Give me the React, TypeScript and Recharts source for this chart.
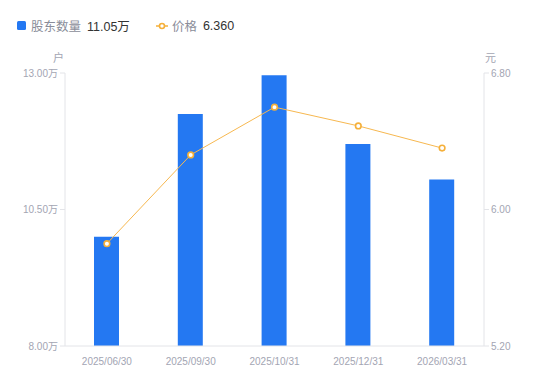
import React from 'react';
import { ComposedChart, Bar, Line, XAxis, YAxis } from 'recharts';

const categories = ['2025/06/30', '2025/09/30', '2025/10/31', '2025/12/31', '2026/03/31'];
const holders = [10.0, 12.25, 12.96, 11.7, 11.05];
const prices = [5.8, 6.32, 6.6, 6.49, 6.36];
const leftTicks = [8, 10.5, 13];
const rightTicks = [5.2, 6.0, 6.8];

const data = categories.map((c, i) => ({ name: c, holders: holders[i], price: prices[i] }));

const FONT = '"Liberation Sans", Arial, "Noto Sans CJK SC", sans-serif';
const tickStyle = { fontSize: 10, fill: '#a3a5b3', fontFamily: FONT };

const Dot = (props: any) => {
  const { cx, cy } = props;
  return <circle cx={cx} cy={cy} r={2.8} fill="#fff" stroke="#f5b03a" strokeWidth={1.6} />;
};

export default function App() {
  return (
    <div style={{ position: 'absolute', left: 0, top: 0, width: 550, height: 381, fontFamily: FONT, background: '#fff' }}>
      <div style={{ position: 'absolute', left: 17, top: 16, display: 'flex', alignItems: 'center', fontSize: 12.5, whiteSpace: 'nowrap' }}>
        <span style={{ display: 'inline-block', width: 9, height: 9, background: '#2478f2', borderRadius: 1.5, marginRight: 5 }} />
        <span style={{ color: '#8a8d99' }}>股东数量</span>
        <span style={{ color: '#333', marginLeft: 6 }}>11.05万</span>
        <svg width={12} height={8} style={{ marginLeft: 26, marginRight: 4 }}>
          <line x1={0} y1={4} x2={12} y2={4} stroke="#f5b03a" strokeWidth={1.5} />
          <circle cx={6} cy={4} r={2.5} fill="#fff" stroke="#f5b03a" strokeWidth={1.6} />
        </svg>
        <span style={{ color: '#8a8d99' }}>价格</span>
        <span style={{ color: '#333', marginLeft: 6 }}>6.360</span>
      </div>
      <div style={{ position: 'absolute', left: 53, top: 49, fontSize: 11, color: '#a3a5b3' }}>户</div>
      <div style={{ position: 'absolute', left: 485, top: 49, fontSize: 11, color: '#a3a5b3' }}>元</div>
      <ComposedChart width={550} height={381} data={data} margin={{ top: 73, right: 0, bottom: 10, left: 0 }}>
        <XAxis
          dataKey="name"
          tick={tickStyle}
          axisLine={{ stroke: '#e3e4e8' }}
          tickLine={false}
          height={25}
          interval={0}
          tickMargin={6}
        />
        <YAxis
          yAxisId="left"
          orientation="left"
          width={65}
          domain={[8, 13]}
          ticks={leftTicks}
          tickFormatter={(v: number) => v.toFixed(2) + '万'}
          tick={tickStyle}
          axisLine={{ stroke: '#e3e4e8' }}
          tickLine={{ stroke: '#e3e4e8' }}
          tickSize={5}
          interval={0}
        />
        <YAxis
          yAxisId="right"
          orientation="right"
          width={66}
          domain={[5.2, 6.8]}
          ticks={rightTicks}
          tickFormatter={(v: number) => v.toFixed(2)}
          tick={tickStyle}
          axisLine={{ stroke: '#e3e4e8' }}
          tickLine={{ stroke: '#e3e4e8' }}
          tickSize={5}
          interval={0}
        />
        <Bar yAxisId="left" dataKey="holders" fill="#2478f2" barSize={25} isAnimationActive={false} />
        <Line
          yAxisId="right"
          dataKey="price"
          stroke="#f7b850"
          strokeWidth={1}
          dot={<Dot />}
          activeDot={false}
          isAnimationActive={false}
        />
      </ComposedChart>
    </div>
  );
}
